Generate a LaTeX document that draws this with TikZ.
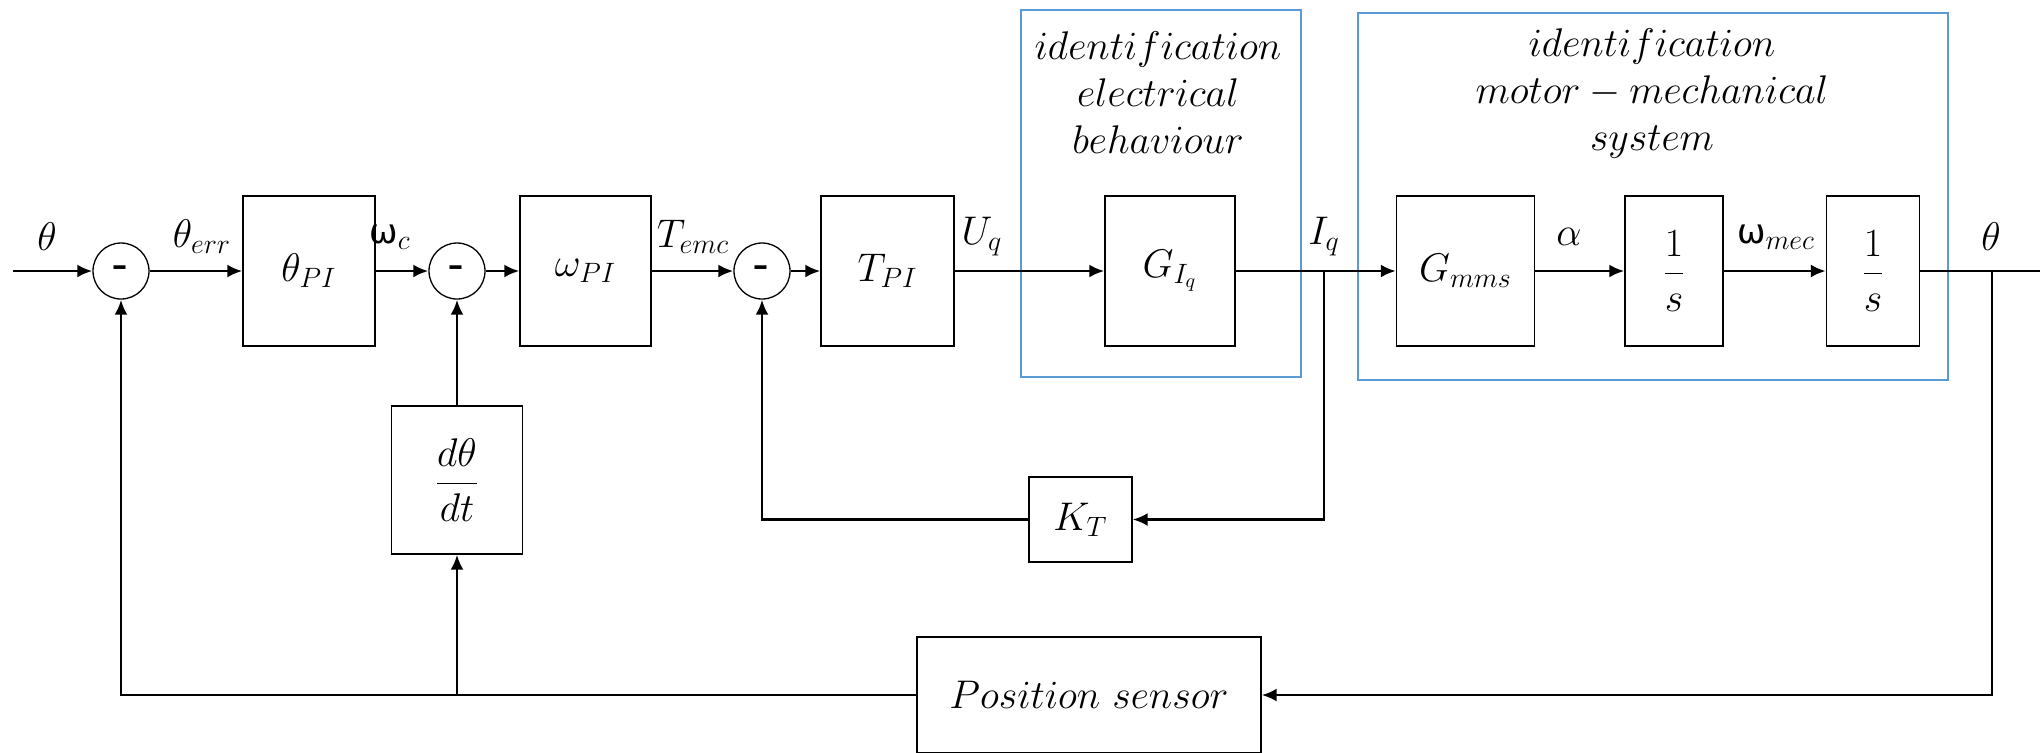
\RequirePackage{fix-cm}
\documentclass[tikz,border=0pt]{standalone}
\usepackage{fontspec}
\newfontfamily\dejavu{DejaVu Sans}
\usetikzlibrary{arrows.meta}
\definecolor{frameblue}{RGB}{91,155,213}
\newcommand{\upw}{\mbox{\dejavu\fontsize{17}{20}\selectfont ω}}
\begin{document}
\begin{tikzpicture}[x=0.5pt,y=-0.5pt,
  every node/.style={font=\fontsize{20}{23.5}\selectfont},
  bx/.style={draw, line width=0.65pt, inner sep=0pt},
  sumc/.style={draw, circle, line width=0.65pt, minimum size=28pt, inner sep=0pt},
  sig/.style={line width=1.4pt, -{Latex[length=7.5pt,width=6.5pt]}},
  wire/.style={line width=1.4pt},
  grp/.style={draw=frameblue, line width=0.75pt, inner sep=0pt},
  lbl/.style={inner sep=0pt}]
\useasboundingbox (0,0) rectangle (2040,752);

% group frames
\node[grp, minimum width=140pt, minimum height=183.5pt] (f1) at (1161,193.5) {};
\node[grp, minimum width=295pt, minimum height=183.5pt] (f2) at (1653,196.5) {};
\node[align=center, inner sep=0pt] (t1) at (1158,93) {$identification$\\$electrical$\\$behaviour$};
\node[align=center, inner sep=0pt] (t2) at (1652,93) {$identification$\\$motor-mechanical$\\$system$};

% summing junctions
\node[sumc] (s1) at (121,271) {\textbf{-}};
\node[sumc] (s2) at (457,271) {\textbf{-}};
\node[sumc] (s3) at (762,271) {\textbf{-}};

% blocks
\node[bx, minimum width=66pt, minimum height=75pt] (tPI) at (309,271) {$\theta_{PI}$};
\node[bx, minimum width=65.5pt, minimum height=75pt] (wPI) at (585.5,271) {$\omega_{PI}$};
\node[bx, minimum width=66.5pt, minimum height=75pt] (TPI) at (887.5,271) {$T_{PI}$};
\node[bx, minimum width=65pt, minimum height=75pt] (GIq) at (1170,271) {$G_{I_q}$};
\node[bx, minimum width=69pt, minimum height=75pt] (Gmms) at (1465.5,271) {$G_{mms}$};
\node[bx, minimum width=49pt, minimum height=75pt] (int1) at (1674,271) {$\displaystyle\frac{1}{s}$};
\node[bx, minimum width=46.5pt, minimum height=75pt] (int2) at (1873,271) {$\displaystyle\frac{1}{s}$};
\node[bx, minimum width=65.5pt, minimum height=74pt] (ddt) at (457,480) {$\displaystyle\frac{d\theta}{dt}$};
\node[bx, minimum width=51.5pt, minimum height=42.5pt] (KT) at (1080.5,519.5) {$K_T$};
\node[bx, minimum width=172pt, minimum height=58pt] (pos) at (1089,695) {$Position\ sensor$};

% signal labels
\node[lbl] (lth) at (47,237) {$\theta$};
\node[lbl] (lerr) at (202,237) {$\theta_{err}$};
\node[lbl] (lwc) at (390,237) {\upw$_c$};
\node[lbl] (ltemc) at (693,237) {$T_{emc}$};
\node[lbl] (luq) at (982,237) {$U_q$};
\node[lbl] (liq) at (1324,237) {$I_q$};
\node[lbl] (lal) at (1569,237) {$\alpha$};
\node[lbl] (lwm) at (1776,237) {\upw$_{mec}$};
\node[lbl] (lth2) at (1991,237) {$\theta$};

% coordinates
\coordinate (in) at (13,271);
\coordinate (bI) at (1324,271);
\coordinate (bT) at (1992,271);
\coordinate (out) at (2040,271);

% forward path
\draw[sig] (in) -- (s1);
\draw[sig] (s1) -- (tPI);
\draw[sig] (tPI) -- (s2);
\draw[sig] (s2) -- (wPI);
\draw[sig] (wPI) -- (s3);
\draw[sig] (s3) -- (TPI);
\draw[sig] (TPI) -- (GIq);
\draw[sig] (GIq) -- (Gmms);
\draw[sig] (Gmms) -- (int1);
\draw[sig] (int1) -- (int2);
\draw[wire] (int2) -- (out);

% feedback paths
\draw[sig] (bT) |- (pos);
\draw[sig] (pos.west) -| (s1);
\draw[sig] (pos.west -| ddt.south) -- (ddt);
\draw[sig] (ddt) -- (s2);
\draw[sig] (bI) |- (KT);
\draw[sig] (KT) -| (s3);
\end{tikzpicture}
\end{document}
